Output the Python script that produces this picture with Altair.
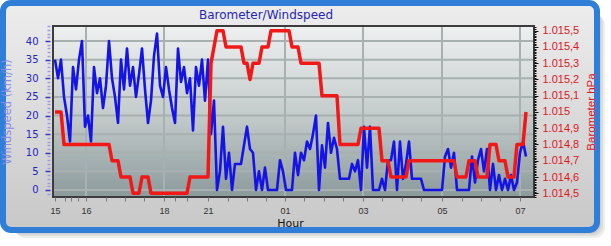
import json
import altair as alt
import pandas as pd

# ---------------- data ----------------
sample = list(range(158))

windspeed = [
    35, 30, 35, 25, 20, 13, 33, 27, 35, 40,
    17, 20, 13, 33, 26, 30, 22, 28, 40, 30,
    25, 18, 35, 27, 38, 28, 33, 25, 31, 38,
    27, 18, 24, 36, 42, 28, 25, 33, 27, 22,
    18, 38, 29, 33, 26, 30, 16, 33, 28, 35,
    24, 35, 15, 24, 0, 5, 17, 3, 10, 0,
    7, 7, 7, 12, 17, 11, 10, 0, 5, 0,
    6, 0, 0, 0, 0, 8, 5, 0, 0, 0,
    10, 4, 10, 8, 13, 11, 15, 20, 0, 12,
    6, 18, 10, 14, 11, 3, 3, 3, 3, 7,
    5, 8, 0, 17, 6, 17, 0, 0, 0, 3,
    0, 8, 8, 13, 0, 13, 3, 7, 13, 3,
    3, 3, 3, 0, 0, 0, 0, 0, 0, 0,
    9, 11, 6, 10, 0, 0, 0, 0, 0, 9,
    2, 8, 11, 5, 11, 0, 7, 0, 4, 0,
    3, 0, 4, 0, 2, 10, 13, 9,
]

barometer = [
    1015.0, 1015.0, 1015.0,
    1014.8, 1014.8, 1014.8, 1014.8, 1014.8, 1014.8, 1014.8, 1014.8,
    1014.8, 1014.8, 1014.8, 1014.8, 1014.8, 1014.8, 1014.8, 1014.8,
    1014.7, 1014.7, 1014.7,
    1014.6, 1014.6, 1014.6, 1014.6,
    1014.5, 1014.5, 1014.5,
    1014.6, 1014.6, 1014.6,
    1014.5, 1014.5, 1014.5, 1014.5, 1014.5, 1014.5, 1014.5, 1014.5,
    1014.5, 1014.5, 1014.5, 1014.5, 1014.5,
    1014.6, 1014.6, 1014.6, 1014.6, 1014.6, 1014.6, 1014.6,
    1015.3,
    1015.4,
    1015.5, 1015.5, 1015.5,
    1015.4, 1015.4, 1015.4, 1015.4, 1015.4, 1015.4,
    1015.3, 1015.3,
    1015.2,
    1015.3, 1015.3, 1015.3,
    1015.4, 1015.4, 1015.4,
    1015.5, 1015.5, 1015.5, 1015.5, 1015.5, 1015.5, 1015.5,
    1015.4, 1015.4, 1015.4,
    1015.3, 1015.3, 1015.3, 1015.3, 1015.3, 1015.3, 1015.3,
    1015.1, 1015.1, 1015.1, 1015.1, 1015.1, 1015.1,
    1014.8, 1014.8, 1014.8, 1014.8, 1014.8, 1014.8, 1014.8,
    1014.9, 1014.9, 1014.9, 1014.9, 1014.9, 1014.9, 1014.9,
    1014.7, 1014.7, 1014.7,
    1014.6, 1014.6, 1014.6, 1014.6, 1014.6, 1014.6,
    1014.7, 1014.7, 1014.7, 1014.7, 1014.7, 1014.7, 1014.7, 1014.7,
    1014.7, 1014.7, 1014.7, 1014.7, 1014.7, 1014.7, 1014.7, 1014.7,
    1014.6, 1014.6, 1014.6, 1014.6,
    1014.7, 1014.7, 1014.7,
    1014.6, 1014.6, 1014.6, 1014.6,
    1014.8, 1014.8, 1014.8,
    1014.7, 1014.7, 1014.7,
    1014.6, 1014.6, 1014.6,
    1014.8, 1014.8, 1014.8,
    1015.0,
]

x_ticks = [0, 3.33, 5.33, 7.67, 10.33, 17, 23.33, 29.67, 36.33, 40, 44, 51,
           57.67, 64, 70.33, 76.67, 83, 89.67, 96, 102.67, 109, 115.67, 122,
           129, 135.67, 142, 148.33, 155]
x_tick_labels = ["15", "", "", "", "16", "", "", "", "18", "", "", "21",
                 "", "", "", "01", "", "", "", "03", "", "", "",
                 "05", "", "", "", "07"]
x_grid = [10.33, 36.33, 76.67, 102.67, 129, 155]

ws_grid = [0, 5, 10, 15, 20, 25, 30, 35, 40]
ws_minor_ticks = list(range(-1, 45))
baro_labels = ["1.014,5", "1.014,6", "1.014,7", "1.014,8", "1.014,9", "1.015",
               "1.015,1", "1.015,2", "1.015,3", "1.015,4", "1.015,5"]
baro_minor_ticks = [round(1014.48 + 0.01 * k, 2) for k in range(105)]

# ---------------- layout ----------------
W, H = 481, 171
x_scale = alt.Scale(domain=[-0.667, 159.67], nice=False, zero=False)
ws_scale = alt.Scale(domain=[-1.88, 44.03], nice=False, zero=False)
baro_scale = alt.Scale(domain=[1014.477, 1015.529], nice=False, zero=False)

one = pd.DataFrame({"a": [0]})
series = pd.DataFrame({"i": sample, "ws": windspeed, "baro": barometer})

xt = json.dumps(x_ticks)
xl = json.dumps(x_tick_labels)
x_axis = alt.Axis(
    values=x_ticks,
    labelExpr=f"indexof({xt}, datum.value) >= 0 ? {xl}[indexof({xt}, datum.value)] : ''",
    labelOverlap=False, labelFlush=False, labelBound=False,
    labelFont="Liberation Sans", labelFontSize=9, labelColor="#333333", labelPadding=5,
    tickSize=4, tickColor="#7a7a7a", tickWidth=1, domain=False, grid=False,
    title="Hour", titleFont="DejaVu Sans", titleFontSize=11, titleFontWeight="normal",
    titleColor="#111111", titleX=237, titleY=26, titleAlign="center",
    titleBaseline="middle", zindex=1,
)

ws_axis = alt.Axis(
    orient="left", values=ws_minor_ticks,
    labelExpr="(datum.value % 5 === 0 && datum.value >= 0 && datum.value <= 40) ? '' + datum.value : ''",
    labelOverlap=False, labelFlush=False, labelBound=False,
    labelFont="DejaVu Sans", labelFontSize=10, labelColor="#2424c8", labelPadding=7,
    tickSize={"condition": {"test": "datum.value % 5 === 0", "value": 5}, "value": 3},
    tickColor={"condition": {"test": "datum.value % 5 === 0", "value": "#3434cc"}, "value": "#9c9ce6"},
    tickWidth=1.5, offset=3, domain=False, grid=False,
    title="Windspeed (km/h)", titleFont="DejaVu Sans", titleFontSize=11.5,
    titleFontWeight="normal", titleColor="#8c8ce4", titleAngle=270,
    titleX=-43, titleY=85.5, titleAlign="center", titleBaseline="middle", zindex=1,
)

bl = json.dumps(baro_labels)
major_test = "abs(datum.value * 10 - round(datum.value * 10)) < 0.001"
baro_axis = alt.Axis(
    orient="right", values=baro_minor_ticks,
    labelExpr=f"{major_test} ? {bl}[round(datum.value * 10) - 10145] : ''",
    labelOverlap=False, labelFlush=False, labelBound=False,
    labelFont="Liberation Sans", labelFontSize=11, labelColor="#e0161e", labelPadding=4,
    tickSize={"condition": {"test": major_test, "value": 4}, "value": 2},
    tickColor="#111111", tickWidth=1, domain=False, grid=False,
    title="Barometer hPa", titleFont="Liberation Sans", titleFontSize=11.5,
    titleFontWeight="normal", titleColor="#e0161e", titleAngle=270,
    titleX=57, titleY=85.5, titleAlign="center", titleBaseline="middle", zindex=1,
)

# ---------------- decoration ----------------
shadows = [
    alt.Chart(one).mark_rect(fill="#000000", opacity=0.07, cornerRadius=10).encode(
        x=alt.value(-46 + o), x2=alt.value(544 + o), y=alt.value(-19 + o), y2=alt.value(204 + o))
    for o in (2, 4, 6, 8)
]

frame = alt.Chart(one).mark_rect(
    fill=alt.LinearGradient(gradient="linear", x1=0, x2=0, y1=0, y2=1, stops=[
        alt.GradientStop(offset=0, color="#ededed"),
        alt.GradientStop(offset=1, color="#c8c8c8"),
    ]),
    stroke="#2f7ed8", strokeWidth=6, cornerRadius=8,
).encode(x=alt.value(-50), x2=alt.value(544), y=alt.value(-23), y2=alt.value(204))

plot_bg = alt.Chart(one).mark_rect(
    fill=alt.LinearGradient(gradient="linear", x1=0, x2=0, y1=0, y2=1, stops=[
        alt.GradientStop(offset=0, color="#eef0f0"),
        alt.GradientStop(offset=0.5, color="#c6cdcd"),
        alt.GradientStop(offset=1, color="#8c9a9c"),
    ]),
).encode(x=alt.value(0), x2=alt.value(W), y=alt.value(0), y2=alt.value(H))

hgrid = alt.Chart(pd.DataFrame({"g": ws_grid})).mark_rule(
    stroke="#a9b0b0", strokeWidth=2, strokeOpacity=1
).encode(
    y=alt.Y("g:Q", scale=ws_scale, axis=None),
    x=alt.value(0), x2=alt.value(W),
)

vgrid = alt.Chart(pd.DataFrame({"i": x_grid})).mark_rule(
    stroke="#a9b0b0", strokeWidth=2, strokeOpacity=1
).encode(
    x=alt.X("i:Q", scale=x_scale, axis=x_axis),
    y=alt.value(0), y2=alt.value(H),
)

wind = alt.Chart(series).mark_line(color="#1414e6", strokeWidth=2.6, strokeJoin="round").encode(
    x=alt.X("i:Q", scale=x_scale, axis=x_axis),
    y=alt.Y("ws:Q", scale=ws_scale, axis=ws_axis),
)

baro = alt.Chart(series).mark_line(color="#f21818", strokeWidth=3.5, strokeJoin="round").encode(
    x=alt.X("i:Q", scale=x_scale, axis=x_axis),
    y=alt.Y("baro:Q", scale=baro_scale, axis=baro_axis),
)

border = alt.Chart(one).mark_rect(fillOpacity=0, stroke="#3c3c3c", strokeWidth=2).encode(
    x=alt.value(0), x2=alt.value(W), y=alt.value(0), y2=alt.value(H))

title = alt.Chart(one).mark_text(
    font="DejaVu Sans", fontSize=12, color="#2626b8", align="center", baseline="middle"
).encode(x=alt.value(213), y=alt.value(-11), text=alt.value("Barometer/Windspeed"))

chart = alt.layer(
    *shadows, frame, plot_bg, hgrid, vgrid, wind, baro, border, title
).resolve_scale(y="independent").properties(
    width=W, height=H,
    autosize=alt.AutoSizeParams(type="none"),
    padding={"left": 53, "top": 26, "right": 77, "bottom": 49},
    background="#ffffff",
).configure_view(strokeOpacity=0)

chart.save("out.html", embed_options={"renderer": "svg", "actions": False})
